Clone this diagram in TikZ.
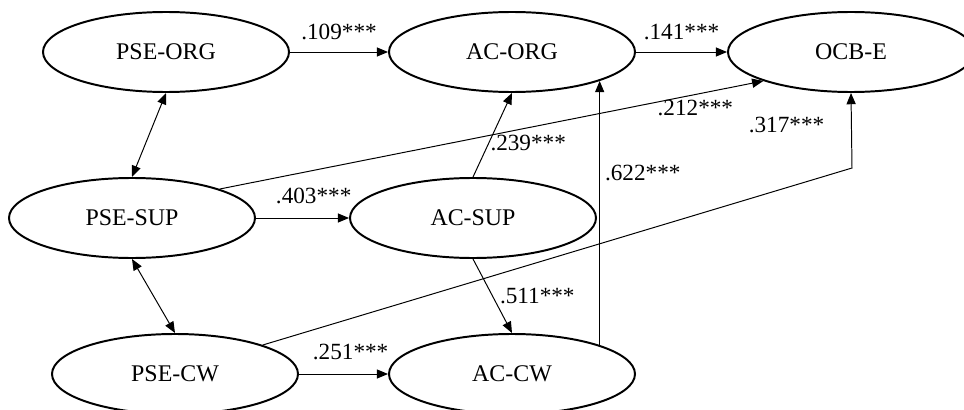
\documentclass[tikz,border=0pt]{standalone}
\usepackage{fontspec}
\setmainfont{Liberation Serif}
\usetikzlibrary{shapes.geometric,arrows.meta,positioning}
\begin{document}
\begin{tikzpicture}[>={Triangle[length=8pt,width=6.5pt]}]
            \tikzstyle{construct}=[ellipse, draw, line width=1.4pt, minimum width=6.15cm, minimum height=2cm, inner sep=0pt, font=\fontsize{17}{20}\selectfont]
            \tikzstyle{linenode}=[inner sep=0pt, font=\fontsize{16.5}{20}\selectfont]
            \tikzstyle{link}=[line width=0.7pt]
            \useasboundingbox (0,0) rectangle (24.1,-10.25);
            \node[construct] (PSEorg) at (4.15,-1.3) {PSE-ORG};
            \node[construct] (ACorg) at (12.8,-1.3) {AC-ORG};
            \node[construct] (OCBe) at (21.275,-1.3) {OCB-E};
            \node[construct] (PSEsup) at (3.3,-5.45) {PSE-SUP};
            \node[construct] (ACsup) at (11.825,-5.45) {AC-SUP};
            \node[construct] (PSEcw) at (4.375,-9.35) {PSE-CW};
            \node[construct] (ACcw) at (12.8,-9.35) {AC-CW};
            \coordinate (kink) at (21.3,-4.2);
            \path [->] (PSEorg) edge[link] node[linenode, above=8pt] {.109***} (ACorg);
            \path [->] (ACorg) edge[link] node[linenode, above=8pt] {.141***} (OCBe);
            \path [->] (PSEsup) edge[link] node[linenode, above=10pt, pos=0.62] {.403***} (ACsup);
            \path [->] (PSEcw) edge[link] node[linenode, above=10pt, pos=0.58] {.251***} (ACcw);
            \path [<->] (PSEorg.south) edge[link] (PSEsup.north);
            \path [<->] (PSEsup.south) edge[link] (PSEcw.north);
            \path [->] (ACsup.north) edge[link] node[linenode, right=1pt, pos=0.4] {.239***} (ACorg.south);
            \path [->] (ACsup.south) edge[link] node[linenode, right=5pt] {.511***} (ACcw.north);
            \path [->] (ACcw.north east) edge[link] node[linenode, right=3.5pt, pos=0.65] {.622***} (ACorg.south east);
            \path [->] (PSEsup.north east) edge[link] node[linenode, below=4pt, pos=0.875] {.212***} (OCBe.south west);
            \draw[link, ->] (PSEcw.north east) -- (kink) -- node[linenode, left=19pt, pos=0.57] {.317***} (OCBe.south);
\end{tikzpicture}
\end{document}
